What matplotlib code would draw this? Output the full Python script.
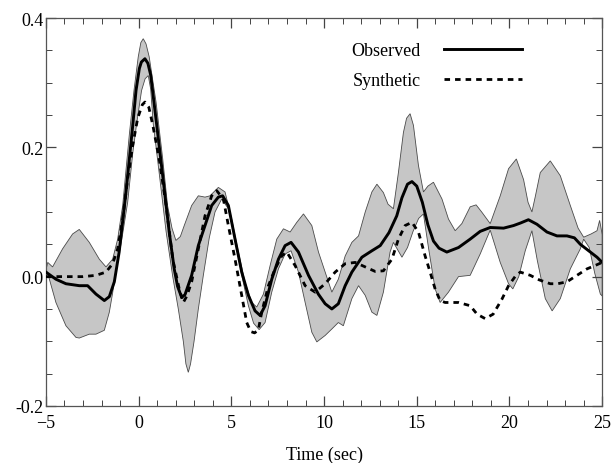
"""Observed vs synthetic waveform with uncertainty band"""
import numpy as np
import matplotlib
matplotlib.use("Agg")
import matplotlib.pyplot as plt
from matplotlib.ticker import MultipleLocator

plt.rcParams["font.family"] = ["Liberation Serif", "DejaVu Serif"]

# observed trace (solid)
obs_t = [-5, -4.46, -3.92, -3.2, -2.75, -2.3, -1.85, -1.58, -1.31, -1.05, -0.68, -0.32,
         -0.14, 0.04, 0.15, 0.34, 0.5, 0.65, 0.97, 1.3, 1.65, 1.92, 2.1, 2.32, 2.5, 2.86,
         3.22, 3.58, 3.94, 4.3, 4.53, 4.84, 5.2, 5.56, 5.92, 6.28, 6.55, 6.82, 7.18, 7.54,
         7.9, 8.22, 8.62, 9.16, 9.69, 10.06, 10.42, 10.77, 11.14, 11.5, 12.04, 12.58,
         13.03, 13.5, 13.92, 14.2, 14.5, 14.74, 15.0, 15.3, 15.6, 15.9, 16.2, 16.62, 17.25,
         17.88, 18.42, 18.96, 19.68, 20.22, 20.6, 21.02, 21.48, 22.02, 22.56, 23.1, 23.5,
         23.82, 24.36, 24.72, 25]
obs_v = [0.007, -0.004, -0.011, -0.014, -0.014, -0.027, -0.037, -0.031, -0.008, 0.038,
         0.131, 0.233, 0.288, 0.322, 0.332, 0.337, 0.330, 0.312, 0.236, 0.156, 0.069,
         0.012, -0.015, -0.032, -0.028, 0.002, 0.048, 0.079, 0.110, 0.123, 0.125, 0.110,
         0.058, 0.007, -0.029, -0.053, -0.060, -0.045, -0.004, 0.027, 0.048, 0.053, 0.038,
         0.002, -0.027, -0.042, -0.050, -0.042, -0.014, 0.007, 0.030, 0.040, 0.048, 0.068,
         0.094, 0.122, 0.143, 0.147, 0.140, 0.115, 0.080, 0.055, 0.044, 0.038, 0.045,
         0.058, 0.070, 0.076, 0.075, 0.079, 0.083, 0.088, 0.081, 0.069, 0.063, 0.063, 0.060,
         0.050, 0.038, 0.030, 0.022]

# synthetic trace (dashed)
syn_t = [-5, -4, -3, -2.3, -1.76, -1.4, -1.13, -0.86, -0.59, -0.32, -0.05, 0.2, 0.34,
         0.55, 0.76, 1.11, 1.48, 1.84, 2.19, 2.41, 2.6, 2.86, 3.22, 3.58, 3.94, 4.21, 4.57,
         4.84, 5.2, 5.56, 5.83, 6.05, 6.25, 6.45, 6.64, 7.0, 7.36, 7.72, 7.99, 8.44, 8.98,
         9.52, 10.06, 10.6, 11.14, 11.68, 12.22, 12.76, 13.2, 13.66, 14.01, 14.37, 14.74,
         15.09, 15.45, 15.72, 16.0, 16.26, 16.53, 17.25, 17.88, 18.25, 18.69, 19.12, 19.59,
         19.95, 20.3, 20.58, 21.12, 21.6, 22.2, 22.6, 23.1, 23.64, 24.18, 24.6, 25]
syn_v = [0.0, 0.0, 0.0, 0.002, 0.007, 0.020, 0.043, 0.089, 0.151, 0.203, 0.245, 0.266,
         0.270, 0.262, 0.235, 0.182, 0.110, 0.027, -0.019, -0.040, -0.030, -0.008, 0.043,
         0.094, 0.125, 0.133, 0.120, 0.079, 0.027, -0.029, -0.071, -0.085, -0.087, -0.083,
         -0.055, -0.014, 0.012, 0.032, 0.038, 0.017, -0.014, -0.024, -0.011, 0.007, 0.020,
         0.022, 0.015, 0.008, 0.009, 0.027, 0.058, 0.079, 0.084, 0.069, 0.032, 0.007,
         -0.020, -0.037, -0.040, -0.040, -0.045, -0.058, -0.065, -0.058, -0.035, -0.014,
         0.0, 0.007, 0.002, -0.005, -0.011, -0.011, -0.008, 0.002, 0.012, 0.017, 0.022]

# upper edge of the shaded band
up_t = [-5, -4.9, -4.64, -4.1, -3.56, -3.2, -2.66, -2.12, -1.76, -1.4, -1.13, -0.86, -0.5,
        -0.25, -0.02, 0.12, 0.25, 0.4, 0.57, 0.94, 1.3, 1.56, 1.8, 2.01, 2.25, 2.46, 2.86,
        3.22, 3.58, 3.85, 4.3, 4.66, 5.02, 5.38, 5.74, 6.1, 6.37, 6.73, 7.09, 7.45, 7.81,
        8.17, 8.53, 8.89, 9.34, 9.7, 10.06, 10.42, 10.77, 11.14, 11.5, 11.86, 12.22, 12.58,
        12.85, 13.2, 13.45, 13.74, 14.01, 14.28, 14.45, 14.64, 14.82, 15.09, 15.36, 15.6,
        15.9, 16.36, 16.71, 17.07, 17.43, 17.88, 18.2, 18.5, 18.96, 19.5, 19.95, 20.37,
        20.76, 21.0, 21.21, 21.4, 21.66, 22.2, 22.74, 23.28, 23.7, 24.0, 24.4, 24.72,
        24.86, 25]
up_v = [0.01, 0.022, 0.015, 0.043, 0.066, 0.073, 0.053, 0.027, 0.015, 0.027, 0.058,
        0.110, 0.220, 0.288, 0.340, 0.362, 0.368, 0.360, 0.340, 0.270, 0.182, 0.110, 0.075,
        0.056, 0.062, 0.079, 0.110, 0.125, 0.123, 0.125, 0.138, 0.131, 0.089, 0.038,
        -0.009, -0.040, -0.047, -0.027, 0.017, 0.058, 0.074, 0.069, 0.084, 0.097, 0.079,
        0.038, 0.007, -0.024, -0.004, 0.032, 0.053, 0.063, 0.100, 0.131, 0.143, 0.130,
        0.112, 0.105, 0.161, 0.223, 0.245, 0.252, 0.234, 0.172, 0.131, 0.140, 0.146, 0.120,
        0.089, 0.071, 0.082, 0.108, 0.111, 0.100, 0.082, 0.125, 0.167, 0.182, 0.150, 0.115,
        0.100, 0.125, 0.161, 0.179, 0.156, 0.110, 0.075, 0.061, 0.066, 0.071, 0.087, 0.065]

# lower edge of the shaded band
lo_t = [-5, -4.9, -4.46, -3.92, -3.38, -3.2, -2.66, -2.3, -1.85, -1.58, -1.4, -1.22, -0.95,
        -0.59, -0.32, -0.11, 0.16, 0.35, 0.52, 0.65, 0.79, 1.11, 1.48, 1.84, 2.14, 2.41,
        2.55, 2.68, 2.8, 2.99, 3.22, 3.49, 3.81, 4.12, 4.48, 4.84, 5.2, 5.56, 5.92, 6.2,
        6.5, 6.82, 7.18, 7.54, 7.9, 8.22, 8.62, 8.98, 9.34, 9.61, 10.06, 10.42, 10.77,
        11.04, 11.5, 11.86, 12.22, 12.58, 12.85, 13.2, 13.56, 13.74, 14.0, 14.2, 14.5, 14.8,
        15.1, 15.36, 15.63, 15.99, 16.26, 16.71, 17.25, 17.88, 18.42, 18.96, 19.5, 19.95,
        20.18, 20.5, 20.85, 21.21, 21.5, 21.93, 22.3, 22.74, 23.28, 23.82, 24.0, 24.3, 24.6,
        24.9, 25]
lo_v = [0.01, 0.005, -0.040, -0.076, -0.094, -0.095, -0.089, -0.089, -0.083, -0.055,
        -0.025, 0.010, 0.050, 0.115, 0.190, 0.236, 0.288, 0.306, 0.311, 0.290, 0.236,
        0.160, 0.070, 0.000, -0.050, -0.100, -0.135, -0.148, -0.135, -0.100, -0.050, 0.002,
        0.060, 0.100, 0.120, 0.105, 0.058, 0.002, -0.045, -0.072, -0.082, -0.071, -0.024,
        0.012, 0.035, 0.040, 0.007, -0.040, -0.086, -0.101, -0.091, -0.081, -0.071, -0.076,
        -0.034, -0.014, -0.029, -0.055, -0.060, -0.024, 0.038, 0.053, 0.040, 0.030, 0.045,
        0.070, 0.090, 0.097, 0.045, -0.019, -0.040, -0.024, 0.000, 0.002, 0.035, 0.072,
        0.022, -0.011, -0.019, 0.000, 0.040, 0.071, 0.025, -0.034, -0.053, -0.034, 0.012,
        0.043, 0.058, 0.045, 0.005, -0.027, -0.030]

fig = plt.figure(figsize=(6.12, 4.64), dpi=100)
ax = fig.add_axes([0.075, 0.123, 0.909, 0.836])

# shaded band as one polygon: upper edge forward, lower edge back
band_x = np.r_[up_t, lo_t[::-1]]
band_y = np.r_[up_v, lo_v[::-1]]
ax.fill(band_x, band_y, facecolor="#c6c6c6", edgecolor="#4a4a4a", linewidth=0.6, zorder=1)

ax.plot(obs_t, obs_v, color="black", linewidth=2.1, label="Observed", zorder=3)
ax.plot(syn_t, syn_v, color="black", linewidth=2.0, dashes=(2, 1.8),
        label="Synthetic", zorder=3)

ax.set_xlim(-5, 25)
ax.set_ylim(-0.2, 0.4)
ax.xaxis.set_major_locator(MultipleLocator(5))
ax.xaxis.set_minor_locator(MultipleLocator(1))
ax.yaxis.set_minor_locator(MultipleLocator(0.05))
ax.set_yticks([-0.2, 0.0, 0.2, 0.4])
ax.set_yticklabels(["-0.2", "0.0", "0.2", "0.4"])

ax.tick_params(which="both", direction="in", top=True, right=True,
               labelsize=13, color="#444444")
ax.tick_params(which="major", length=7, width=0.9)
ax.tick_params(which="minor", length=4, width=0.7)
ax.tick_params(axis="y", pad=1.5)
ax.tick_params(axis="x", pad=5.5)
for sp in ax.spines.values():
    sp.set_color("#555555")
    sp.set_linewidth(0.9)

ax.set_xlabel("Time (sec)", fontsize=13, labelpad=11)

ax.legend(loc="upper right", bbox_to_anchor=(0.856, 0.937), frameon=False,
          markerfirst=False, fontsize=13, handlelength=4.3, handletextpad=1.3,
          labelspacing=0.7, borderpad=0, borderaxespad=0)

fig.savefig("out.png", dpi=100)
